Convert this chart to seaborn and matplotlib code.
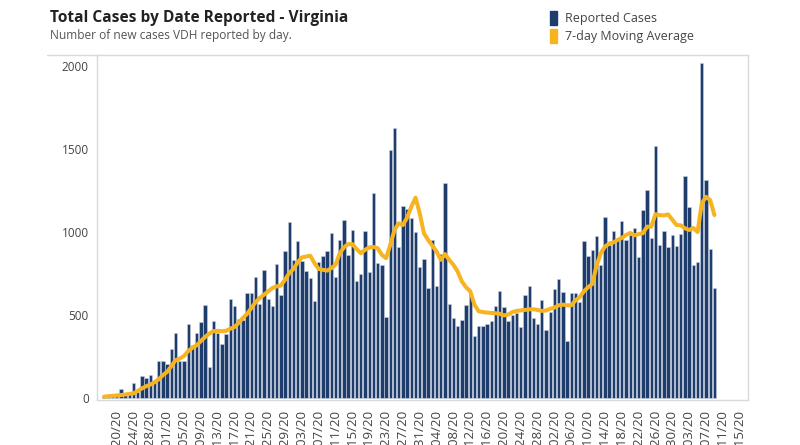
import numpy as np
import pandas as pd
import matplotlib
matplotlib.use("Agg")
import matplotlib.pyplot as plt
import seaborn as sns
from matplotlib.patches import Patch
from matplotlib.lines import Line2D

# DATA (3/17/20 .. 8/09/20)
START = "2020-03-17"
cases = [
    5, 5, 10, 20, 50, 20, 30, 86, 35, 128,
    120, 138, 95, 219, 219, 205, 295, 387, 222, 222,
    445, 315, 387, 456, 560, 185, 462, 386, 320, 380,
    596, 552, 476, 466, 632, 630, 729, 566, 771, 596,
    552, 803, 620, 885, 1058, 827, 942, 821, 763, 723,
    580, 817, 851, 885, 990, 729, 948, 1072, 857, 1012,
    703, 747, 1006, 759, 1233, 811, 801, 484, 1494, 1626,
    907, 1155, 1135, 1082, 998, 787, 837, 661, 948, 671,
    867, 1293, 562, 482, 430, 466, 556, 633, 371, 432,
    432, 445, 460, 552, 643, 544, 464, 496, 512, 426,
    616, 673, 482, 446, 590, 406, 516, 657, 713, 637,
    341, 631, 631, 576, 946, 851, 888, 972, 797, 1086,
    918, 1004, 958, 1062, 948, 978, 1024, 847, 1128, 1249,
    962, 1516, 918, 1002, 908, 982, 914, 984, 1333, 1149,
    797, 817, 2015, 1309, 898, 661,
]
moving_avg = [
    5, 8, 10, 12, 15, 18, 22, 25, 40, 55,
    68, 78, 92, 110, 135, 155, 190, 225, 235, 250,
    280, 300, 315, 340, 365, 385, 400, 402, 400, 402,
    415, 425, 450, 480, 505, 540, 575, 600, 620, 640,
    660, 670, 675, 710, 750, 775, 815, 845, 850, 855,
    810, 775, 770, 765, 780, 800, 870, 905, 925, 925,
    895, 870, 890, 905, 908, 900, 860, 840, 920, 1010,
    1050, 1040, 1085, 1150, 1205, 1110, 990, 950, 915, 880,
    830, 865, 830, 800, 760, 700, 665, 640, 560, 520,
    515, 512, 510, 508, 505, 495, 500, 515, 522, 525,
    528, 532, 532, 528, 522, 525, 535, 542, 556, 560,
    556, 556, 585, 606, 640, 665, 685, 795, 870, 910,
    928, 935, 950, 962, 980, 992, 978, 985, 990, 1030,
    1030, 1105, 1100, 1098, 1104, 1072, 1040, 1038, 1020, 1010,
    1022, 998, 1170, 1210, 1190, 1100,
]
tick_start, tick_end = "2020-03-20", "2020-08-15"
yticks = [0, 500, 1000, 1500, 2000]

BAR_COLOR = "#1f3d6c"
LINE_COLOR = "#f6b420"
TEXT_COLOR = "#444444"

dates = pd.date_range(START, periods=len(cases), freq="D")
df = pd.DataFrame({
    "day": (dates - dates[0]).days,
    "cases": cases,
    "avg": moving_avg,
})

sns.set_style("white")
plt.rcParams["font.family"] = ["Open Sans", "DejaVu Sans"]

fig = plt.figure(figsize=(8, 4.45), dpi=100)
ax = fig.add_axes([0.1213, 0.1011, 0.8138, 0.7753])

sns.barplot(data=df, x="day", y="cases", native_scale=True, color=BAR_COLOR,
            saturation=1, width=0.8, edgecolor="#c9d2de", linewidth=0.4, ax=ax)
sns.lineplot(data=df, x="day", y="avg", color=LINE_COLOR, linewidth=2.9,
             solid_capstyle="round", ax=ax)

# axes ranges / ticks
ax.set_xlim(-1.66, 153)
ax.set_ylim(-15, 2065)
ax.set_yticks(yticks)
ax.set_yticklabels([str(v) for v in yticks], fontsize=8.5, color=TEXT_COLOR)

# date labels run off the bottom edge, as in the source chart
tick_dates = pd.date_range(tick_start, tick_end, freq="4D")
ax.set_xticks((tick_dates - dates[0]).days)
ax.set_xticklabels([d.strftime("%m/%d/%y") for d in tick_dates], rotation=90,
                   fontsize=9.5, color=TEXT_COLOR)
ax.set_xticks(np.arange(-1, 153), minor=True)
ax.tick_params(axis="x", which="both", length=3, color="#b0b0b0", pad=4)
ax.tick_params(axis="y", length=0, pad=6)
ax.set_xlabel("")
ax.set_ylabel("")

for s in ax.spines.values():
    s.set_color("#d9d9d9")
    s.set_linewidth(1)

# top border continues over the y labels
fig.add_artist(Line2D([47 / 800, 97 / 800], [1 - 55 / 445, 1 - 55 / 445],
                      color="#d9d9d9", linewidth=1, transform=fig.transFigure))

# titles
fig.text(50 / 800, 1 - 18 / 445, "Total Cases by Date Reported - Virginia",
         fontsize=11.2, fontweight="bold", color="#222222", va="center", ha="left")
fig.text(50 / 800, 1 - 36 / 445, "Number of new cases VDH reported by day.",
         fontsize=8.6, color="#555555", va="center", ha="left")

# legend
handles = [Patch(color=BAR_COLOR), Patch(color=LINE_COLOR)]
fig.legend(handles, ["Reported Cases", "7-day Moving Average"],
           loc="upper left", bbox_to_anchor=(0.674, 1.0), frameon=False,
           handlelength=0.55, handleheight=1.3, handletextpad=0.6,
           labelspacing=0.3, fontsize=9, labelcolor=TEXT_COLOR)

fig.savefig("out.png", dpi=100)
